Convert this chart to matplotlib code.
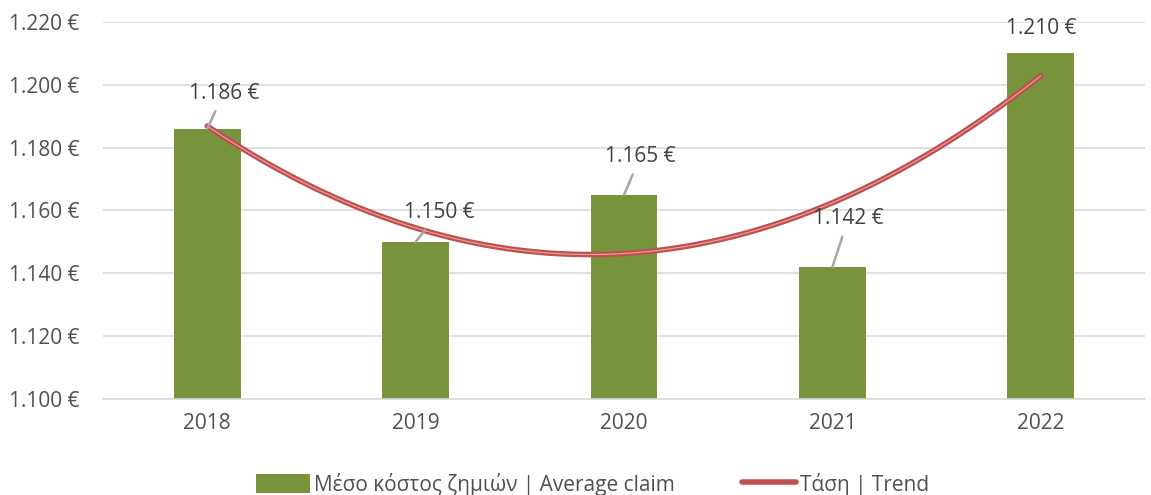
import numpy as np
import matplotlib.pyplot as plt

plt.rcParams['font.family'] = ['Open Sans', 'DejaVu Sans']

# data
years = ["2018", "2019", "2020", "2021", "2022"]
avg_claim = [1186, 1150, 1165, 1142, 1210]
yticks = [1100, 1120, 1140, 1160, 1180, 1200, 1220]

# label positions (offsets in data units)
label_dx = [0.08, 0.115, 0.08, 0.077, 0.0]
label_y = [1197.4, 1159.5, 1177.3, 1157.6, 1218.0]

def euro(v):
    return f"{int(round(v)):,}".replace(",", ".") + " €"

fig = plt.figure(figsize=(11.51, 4.95), dpi=100)
ax = fig.add_axes([103 / 1151, 1 - 399 / 495, 1042 / 1151, 377 / 495])

x = np.arange(len(years))
bars = ax.bar(x, np.array(avg_claim) - 1100, bottom=1100, width=0.32, color="#77933C",
              zorder=2)

# polynomial (order 2) trend line, like Excel
coef = np.polyfit(x, avg_claim, 2)
xs = np.linspace(0, 4, 200)
ys = np.polyval(coef, xs)
line, = ax.plot(xs, ys, color="#C0504D", lw=4, solid_capstyle="round", zorder=3)
ax.plot(xs, ys, color="#E6A5A3", lw=0.8, zorder=4)

for i, v in enumerate(avg_claim):
    if i == 4:
        ax.text(x[i] + label_dx[i], label_y[i], euro(v), ha="center", va="center",
                fontsize=15, color="#404040", zorder=5)
    else:
        ax.annotate(euro(v), xy=(x[i], v), xytext=(x[i] + label_dx[i], label_y[i]),
                    ha="center", va="center", fontsize=15, color="#404040",
                    arrowprops=dict(arrowstyle="-", color="#A6A6A6", lw=1.8,
                                    shrinkA=-4, shrinkB=0), zorder=5)

ax.set_xlim(-0.5, 4.5)
ax.set_ylim(1100, 1220)
ax.set_yticks(yticks)
ax.set_yticklabels([euro(t) for t in yticks])
ax.set_xticks(x)
ax.set_xticklabels(years)
ax.tick_params(axis="both", length=0, labelsize=15, labelcolor="#505050")
ax.tick_params(axis="y", pad=17)
ax.tick_params(axis="x", pad=10)
ax.grid(axis="y", color="#D9D9D9", lw=1.2, zorder=0)
ax.set_axisbelow(True)
for s in ["top", "right", "left"]:
    ax.spines[s].set_visible(False)
ax.spines["bottom"].set_color("#D9D9D9")
ax.spines["bottom"].set_linewidth(1.2)

fig.legend([bars, line], ["Μέσο κόστος ζημιών | Average claim", "Τάση | Trend"],
           loc="center", bbox_to_anchor=(0.515, 0.022), ncol=2, frameon=False,
           fontsize=15, labelcolor="#505050", handlelength=2.6, handleheight=1.0,
           handletextpad=0.2, columnspacing=3.2)

fig.savefig("out.png", dpi=100)
